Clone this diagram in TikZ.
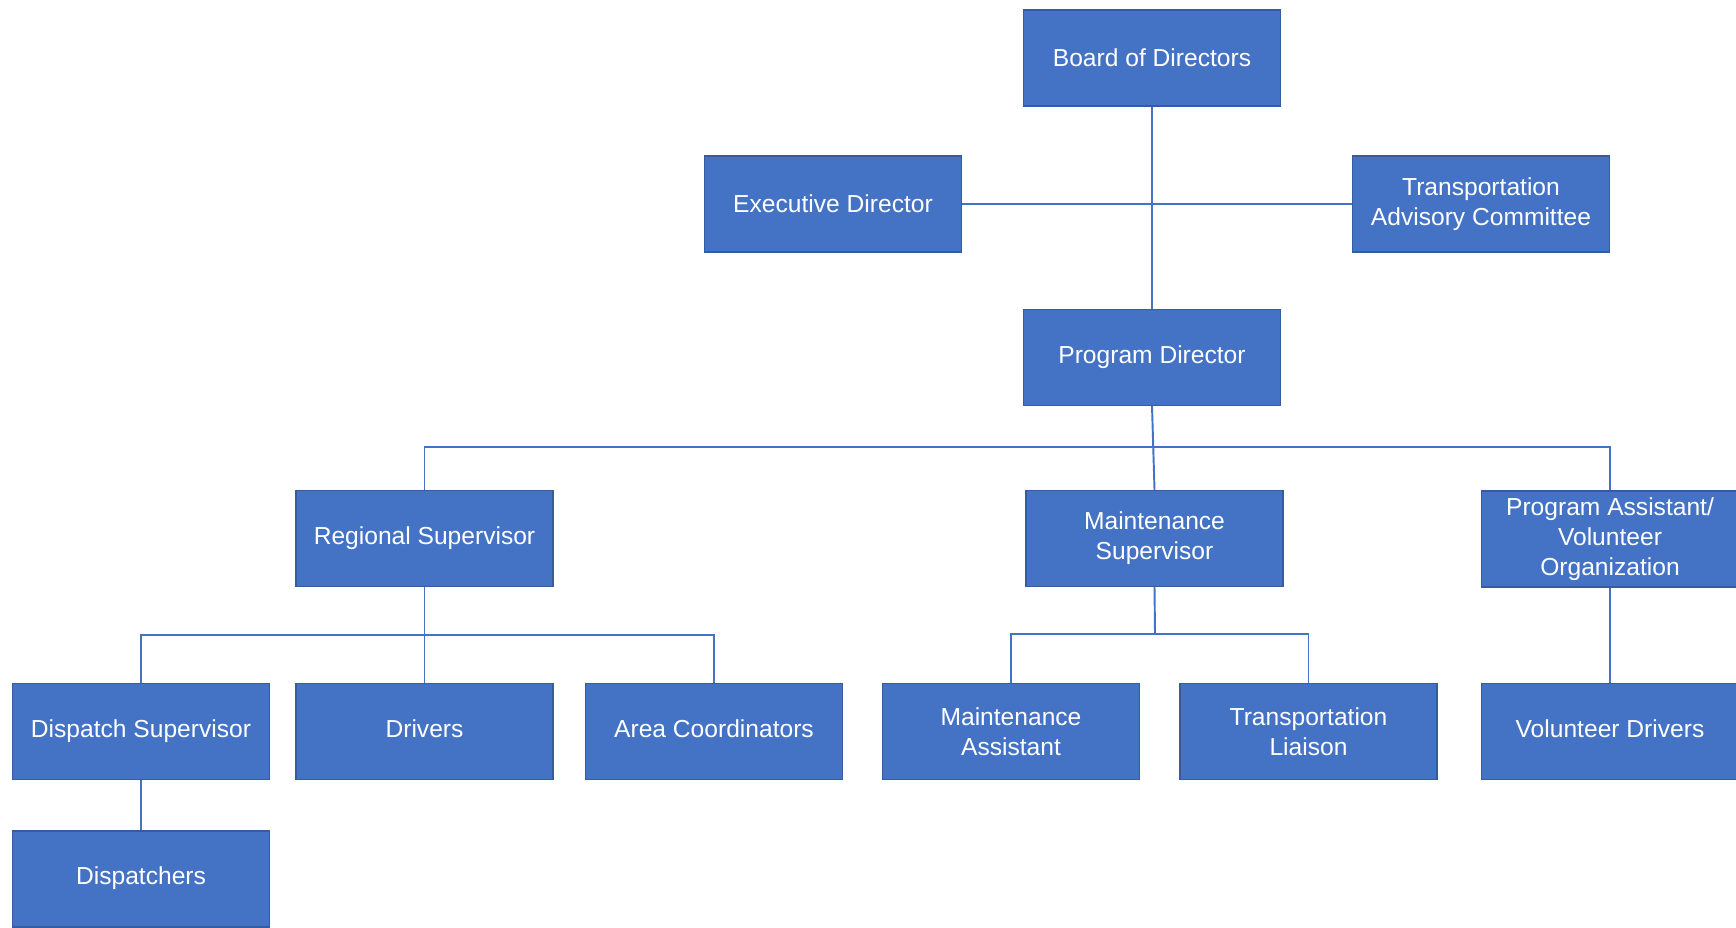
\documentclass[tikz,border=0pt]{standalone}
\usepackage{fontspec}
\setmainfont{Liberation Sans}
\usepackage{tikz}
\definecolor{boxblue}{RGB}{68,114,196}
\definecolor{boxedge}{RGB}{54,92,160}

\begin{document}
\begin{tikzpicture}[x=0.02cm,y=-0.02cm,
  unit/.style={draw=boxedge, line width=0.8pt, fill=boxblue, text=white, align=center,
    minimum width=5.14cm, minimum height=1.92cm, inner sep=1pt, font=\fontsize{14}{17}\selectfont},
  link/.style={draw=boxblue, line width=1.1pt}]
\useasboundingbox (0,0) rectangle (1736,928) ;
\node[unit] (board) at (1152,58) {Board of Directors} ;
\node[unit] (exec) at (833,204) {Executive Director} ;
\node[unit] (tac) at (1481,204) {Transportation\\Advisory Committee} ;
\node[unit] (prog) at (1152,357.5) {Program Director} ;
\node[unit] (regsup) at (424.5,538.5) {Regional Supervisor} ;
\node[unit] (mainsup) at (1154.5,538.5) {Maintenance\\Supervisor} ;
\node[unit] (progasst) at (1610,539) {Program Assistant/\\Volunteer\\Organization} ;
\node[unit] (dispsup) at (141,731.5) {Dispatch Supervisor\strut} ;
\node[unit] (drivers) at (424.5,731.5) {Drivers\strut} ;
\node[unit] (areaco) at (714,731.5) {Area Coordinators\strut} ;
\node[unit] (mainasst) at (1011,731.5) {Maintenance\\Assistant} ;
\node[unit] (liaison) at (1308.5,731.5) {Transportation\\Liaison} ;
\node[unit] (voldrv) at (1610,731.5) {Volunteer Drivers\strut} ;
\node[unit] (disp) at (141,879) {Dispatchers\strut} ;
\coordinate (progbus) at (1152,447) ;
\coordinate (regbus) at (425,635) ;
\coordinate (mainbus) at (1155,634) ;
\draw[link] (board) -- (prog) ;
\draw[link] (exec) -- (tac) ;
\draw[link] (prog.south) -- (mainsup.north) ;
\draw[link] (regsup.north) |- (progbus) -| (progasst.north) ;
\draw[link] (regsup.south) -- (drivers.north) ;
\draw[link] (dispsup.north) |- (regbus) -| (areaco.north) ;
\draw[link] (mainsup.south) -- (mainbus) ;
\draw[link] (mainasst.north) |- (mainbus) -| (liaison.north) ;
\draw[link] (progasst) -- (voldrv) ;
\draw[link] (dispsup) -- (disp) ;
\end{tikzpicture}
\end{document}
